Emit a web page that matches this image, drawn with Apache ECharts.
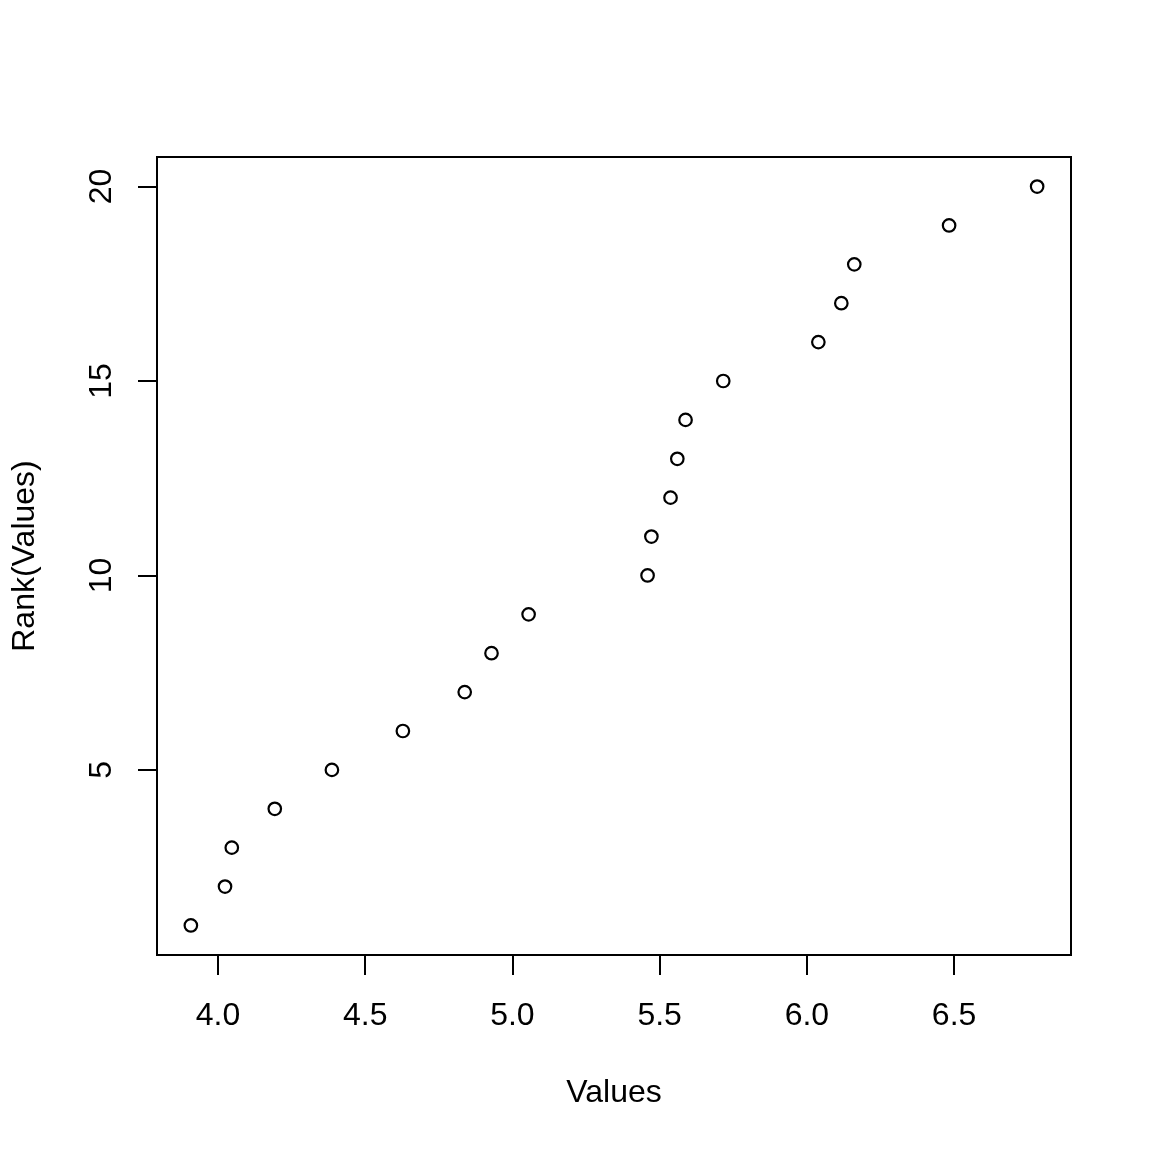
<!DOCTYPE html>
<html>
<head>
<meta charset="utf-8">
<script src="https://cdn.jsdelivr.net/npm/echarts@6/dist/echarts.min.js"></script>
<style>html,body{margin:0;padding:0;background:#fff}#c{width:1152px;height:1152px}</style>
</head>
<body>
<div id="c"></div>
<script>
var values = [3.908,4.024,4.047,4.193,4.387,4.628,4.838,4.929,5.055,5.459,5.472,5.537,5.560,5.588,5.716,6.039,6.117,6.161,6.483,6.782];
var ranks = [1,2,3,4,5,6,7,8,9,10,11,12,13,14,15,16,17,18,19,20];
var xTicks = [4.0,4.5,5.0,5.5,6.0,6.5];
var yTicks = [5,10,15,20];

var pts = values.map(function(v,i){return [v, ranks[i]];});
var chart = echarts.init(document.getElementById('c'));
var font = 'Liberation Sans, Arial, sans-serif';
chart.setOption({
  animation:false,
  backgroundColor:'#fff',
  grid:{left:157, top:157, width:914, height:798, show:true, borderColor:'#000', borderWidth:2, backgroundColor:'transparent'},
  xAxis:{
    type:'value', min:3.793, max:6.897,
    name:'Values', nameLocation:'middle', nameGap:122,
    nameTextStyle:{fontFamily:font, fontSize:32, color:'#000'},
    axisLine:{show:false},
    splitLine:{show:false},
    axisTick:{show:true, length:20, inside:false, customValues:xTicks, lineStyle:{color:'#000', width:2}},
    axisLabel:{show:true, customValues:xTicks, margin:45, fontFamily:font, fontSize:32, color:'#000',
      formatter:function(v){return v.toFixed(1);}}
  },
  yAxis:{
    type:'value', min:0.24, max:20.76,
    name:'Rank(Values)', nameLocation:'middle', nameGap:116,
    nameTextStyle:{fontFamily:font, fontSize:32, color:'#000'},
    axisLine:{show:false},
    splitLine:{show:false},
    axisTick:{show:true, length:19, customValues:yTicks, lineStyle:{color:'#000', width:2}},
    axisLabel:{show:true, customValues:yTicks, rotate:90, margin:39, align:'center', verticalAlign:'bottom',
      fontFamily:font, fontSize:32, color:'#000'}
  },
  series:[{
    type:'scatter', data:pts, symbol:'circle', symbolSize:12.5,
    itemStyle:{color:'rgba(0,0,0,0)', borderColor:'#000', borderWidth:2.2, opacity:1},
    silent:true
  }]
});
</script>
</body>
</html>
